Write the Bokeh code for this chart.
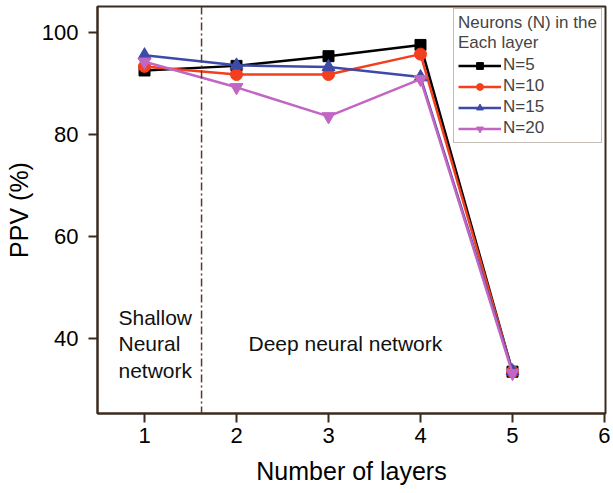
from bokeh.plotting import figure
from bokeh.models import Span, Label, Legend, LegendItem, Range1d, FixedTicker
from bokeh.embed import file_html
from bokeh.resources import INLINE

layers = [1, 2, 3, 4, 5]
n5 = [92.5, 93.4, 95.3, 97.5, 33.5]
n10 = [93.3, 91.7, 91.7, 95.7, 33.5]
n15 = [95.5, 93.5, 93.2, 91.2, 33.6]
n20 = [94.2, 89.2, 83.5, 90.8, 33.2]
series_names = ["N=5", "N=10", "N=15", "N=20"]
x_ticks = [1, 2, 3, 4, 5, 6]
y_ticks = [40, 60, 80, 100]
boundary = 1.62

FONT = "Liberation Sans"
AX = "#3b2a1e"

p = figure(width=613, height=493, output_backend="svg", toolbar_location=None,
           x_range=Range1d(0.489, 6.011), y_range=Range1d(25.31, 105.03),
           min_border_left=97, min_border_right=8, min_border_top=6, min_border_bottom=80)
p.grid.visible = False
p.outline_line_color = AX
p.outline_line_width = 2
p.background_fill_color = "white"

for ax in (p.xaxis[0], p.yaxis[0]):
    ax.axis_line_color = AX
    ax.axis_line_width = 2
    ax.major_tick_line_color = AX
    ax.major_tick_line_width = 2
    ax.major_tick_out = 9
    ax.major_tick_in = 0
    ax.minor_tick_line_color = None
    ax.major_label_text_font = FONT
    ax.major_label_text_font_size = "22px"
    ax.major_label_text_color = "black"
    ax.axis_label_text_font = FONT
    ax.axis_label_text_font_size = "25px"
    ax.axis_label_text_font_style = "normal"
    ax.axis_label_text_color = "black"

p.xaxis.ticker = FixedTicker(ticks=x_ticks)
p.yaxis.ticker = FixedTicker(ticks=y_ticks)
p.xaxis.axis_label = "Number of layers"
p.yaxis.axis_label = "PPV (%)"
p.xaxis.major_label_standoff = 5
p.yaxis.major_label_standoff = 10
p.xaxis.axis_label_standoff = 11
p.yaxis.axis_label_standoff = 6

p.add_layout(Span(location=boundary, dimension="height", line_color="#5a3a2a",
                  line_width=1.5, line_dash="8 3 2 3"))

colors = ["#000000", "#f2401f", "#3d4aa8", "#c266c4"]
markers = ["square", "circle", "triangle", "inverted_triangle"]
sizes = [11, 12, 13, 13]
items = []
for ys, name, c, m, s in zip([n5, n10, n15, n20], series_names, colors, markers, sizes):
    l = p.line(layers, ys, line_color=c, line_width=2.5)
    sc = p.scatter(layers, ys, marker=m, size=s, fill_color=c, line_color=c)
    items.append(LegendItem(label=name, renderers=[l, sc]))

legend = Legend(items=items, location=(356, 270), title="Neurons (N) in the\nEach layer",
                label_text_font=FONT, label_text_font_size="17px",
                title_text_font=FONT, title_text_font_size="17px", title_text_font_style="normal",
                glyph_width=43, glyph_height=17, spacing=1, label_standoff=2,
                padding=4, margin=0, title_standoff=2,
                border_line_color="#8a7a70", border_line_width=1.5,
                background_fill_alpha=1.0)
p.add_layout(legend, "center")

for txt, yv in [("Shallow", 44.1), ("Neural", 39.0), ("network", 33.8)]:
    p.add_layout(Label(x=0.717, y=yv, text=txt, text_font=FONT, text_font_size="21px",
                       text_color="#111111", text_baseline="alphabetic"))
p.add_layout(Label(x=2.13, y=39.0, text="Deep neural network", text_font=FONT,
                   text_font_size="21px", text_color="#111111", text_baseline="alphabetic"))

open("out.html", "w").write(file_html(p, INLINE))
